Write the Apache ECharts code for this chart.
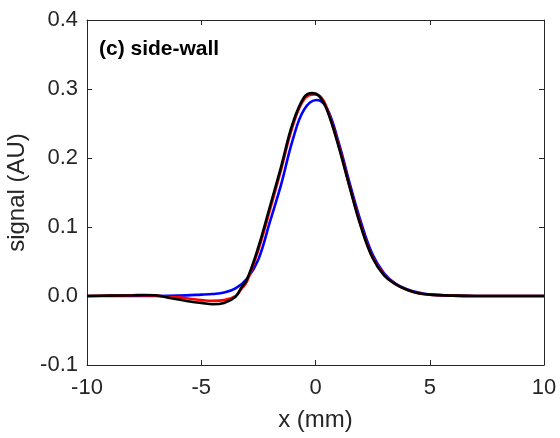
<!DOCTYPE html>
<html>
<head>
<meta charset="utf-8">
<script src="https://cdn.jsdelivr.net/npm/echarts@6/dist/echarts.min.js"></script>
<style>
html,body{margin:0;padding:0;background:#fff;}
#c{width:560px;height:438px;}
</style>
</head>
<body>
<div id="c"></div>
<script>
// ---- data ----
const xTicks = [-10, -5, 0, 5, 10];
const yTicks = [-0.1, 0, 0.1, 0.2, 0.3, 0.4];

const xBlue = [-10,-8,-7,-6,-5,-4.5,-4,-3.5,-3,-2.5,-2,-1.5,-1,-0.5,0.05,0.5,1,1.5,2,2.5,3,3.5,4,4.5,5,6,7,8,10];
const yBlue = [0,0,0,0.0005,0.002,0.003,0.005,0.011,0.025,0.053,0.107,0.162,0.226,0.270,0.284,0.272,0.224,0.163,0.106,0.060,0.033,0.018,0.010,0.005,0.002,0.0005,0,0,0];

const xRed = [-10,-9,-8,-7,-6.5,-6,-5.5,-5,-4.5,-4,-3.5,-3.25,-3,-2.5,-2,-1.5,-1,-0.5,-0.05,0.25,0.5,1,1.5,2,2.5,3,3.5,4,4.5,5,6,7,8,9,10];
const yRed = [0,0.0005,0.001,0.0005,-0.001,-0.002,-0.004,-0.006,-0.007,-0.006,0.000,0.010,0.021,0.067,0.124,0.184,0.246,0.285,0.292,0.288,0.272,0.220,0.158,0.101,0.056,0.031,0.017,0.009,0.004,0.002,0.0005,0,0,0,0];

const xBlack = [-10,-9,-8,-7.5,-7,-6.5,-6,-5.5,-5,-4.5,-4,-3.5,-3.25,-3,-2.5,-2,-1.5,-1,-0.5,-0.15,0.15,0.5,1,1.5,2,2.5,3,3.5,4,4.5,5,6,7,8,9,10];
const yBlack = [0,0.0005,0.001,0.0015,0.001,-0.002,-0.005,-0.008,-0.010,-0.012,-0.010,-0.001,0.012,0.024,0.071,0.129,0.188,0.250,0.288,0.294,0.290,0.270,0.218,0.157,0.099,0.055,0.030,0.017,0.009,0.004,0.002,0.0005,0,0,0,0];

const titleText = '(c) side-wall';
const xName = 'x (mm)';
const yName = 'signal (AU)';

function pairs(xs, ys) { return xs.map((x, i) => [x, ys[i]]); }

const FONT = '"Liberation Sans", Arial, Helvetica, sans-serif';
const AX = '#262626';

const chart = echarts.init(document.getElementById('c'), null, {renderer: 'canvas'});
const baseAxisLine = {show: true, onZero: false, lineStyle: {color: AX, width: 1}};
const tick = {show: true, inside: true, length: 5, lineStyle: {color: AX, width: 1}};

chart.setOption({
  animation: false,
  backgroundColor: '#fff',
  grid: {left: 87, right: 16, top: 20, bottom: 73, containLabel: false, outerBoundsMode: 'none'},
  title: {
    text: titleText, left: 94, top: 34,
    textStyle: {fontFamily: FONT, fontWeight: 'bold', fontSize: 21, color: '#000'}
  },
  xAxis: [{
    type: 'value', min: xTicks[0], max: xTicks[xTicks.length - 1], interval: 5,
    axisLine: baseAxisLine, axisTick: tick, splitLine: {show: false},
    axisLabel: {fontFamily: FONT, fontSize: 22, color: AX, margin: 12},
    name: xName, nameLocation: 'middle', nameGap: 43,
    nameTextStyle: {fontFamily: FONT, fontSize: 24, color: AX}
  }, {
    type: 'value', position: 'top', min: xTicks[0], max: xTicks[xTicks.length - 1], interval: 5,
    axisLine: baseAxisLine, axisTick: tick, axisLabel: {show: false}, splitLine: {show: false}
  }],
  yAxis: [{
    type: 'value', min: yTicks[0], max: yTicks[yTicks.length - 1], interval: 0.1,
    axisLine: baseAxisLine, axisTick: tick, splitLine: {show: false},
    axisLabel: {fontFamily: FONT, fontSize: 22, color: AX, margin: 9,
      formatter: v => (Math.abs(v) < 1e-9 ? 0 : v).toFixed(1)},
    name: yName, nameLocation: 'middle', nameGap: 54,
    nameTextStyle: {fontFamily: FONT, fontSize: 24, color: AX}
  }, {
    type: 'value', position: 'right', min: yTicks[0], max: yTicks[yTicks.length - 1], interval: 0.1,
    axisLine: baseAxisLine, axisTick: tick, axisLabel: {show: false}, splitLine: {show: false}
  }],
  series: [
    {type: 'line', data: pairs(xBlue, yBlue), showSymbol: false, smooth: 0.4,
      lineStyle: {color: '#0000ff', width: 2.6}, itemStyle: {color: '#0000ff'}},
    {type: 'line', data: pairs(xRed, yRed), showSymbol: false, smooth: 0.4,
      lineStyle: {color: '#ff0000', width: 2.6}, itemStyle: {color: '#ff0000'}},
    {type: 'line', data: pairs(xBlack, yBlack), showSymbol: false, smooth: 0.4,
      lineStyle: {color: '#000000', width: 2.6}, itemStyle: {color: '#000000'}}
  ]
});
</script>
</body>
</html>
